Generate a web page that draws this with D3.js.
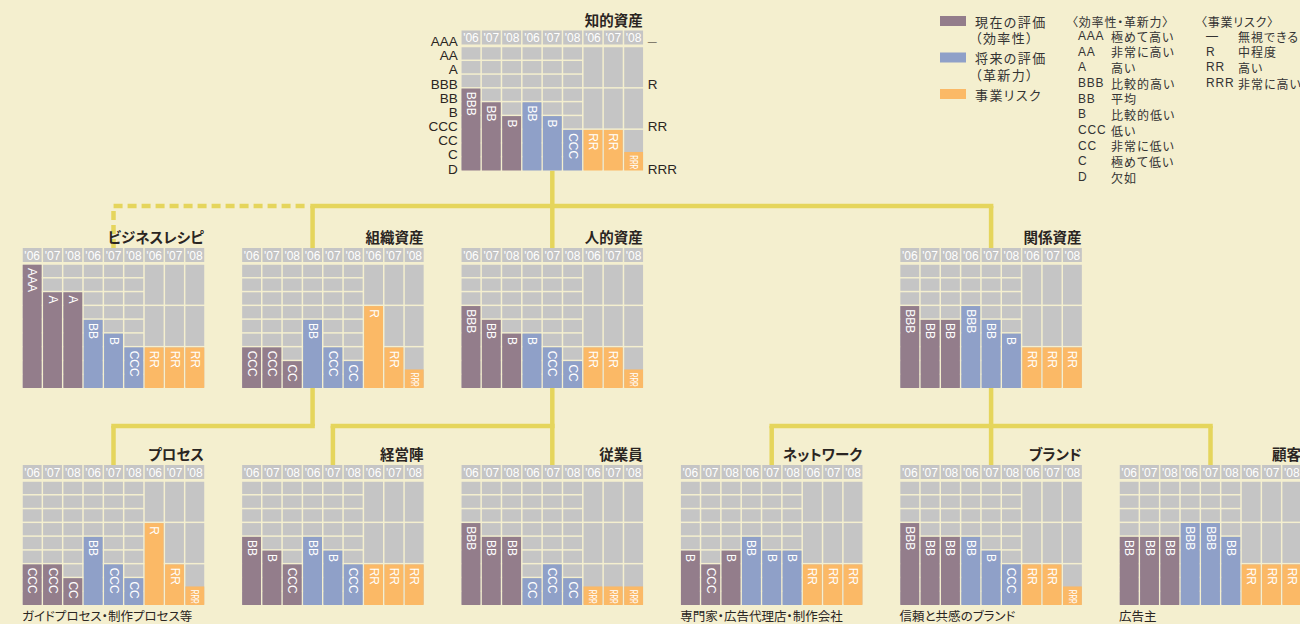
<!DOCTYPE html>
<html>
<head>
<meta charset="utf-8">
<script src="https://cdn.jsdelivr.net/npm/d3@7"></script>
<style>
  body { margin: 0; background: #f4efcf; }
  svg { display: block; }
  .jp { font-family: 'Noto Sans CJK JP', sans-serif; font-feature-settings: 'palt'; }
  .lat { font-family: 'Liberation Sans', 'Noto Sans CJK JP', sans-serif; }
</style>
</head>
<body>
<svg id="chart" width="1300" height="624"></svg>
<script>
// ---- data ----
const years = ["'06", "'07", "'08"];
const levels = ['AAA', 'AA', 'A', 'BBB', 'BB', 'B', 'CCC', 'CC', 'C', 'D'];
const levelDesc = ['極めて高い', '非常に高い', '高い', '比較的高い', '平均', '比較的低い', '低い', '非常に低い', '極めて低い', '欠如'];
const riskLevels = ['—', 'R', 'RR', 'RRR'];
const riskDesc = ['無視できる', '中程度', '高い', '非常に高い'];
const riskScore = [9, 6, 3, 1.4]; // bar height in rating steps

const assets = ['知的資産', 'ビジネスレシピ', '組織資産', '人的資産', '関係資産',
  'プロセス', '経営陣', '従業員', 'ネットワーク', 'ブランド', '顧客'];
const current = [
  ['BBB', 'BB', 'B'], ['AAA', 'A', 'A'], ['CCC', 'CCC', 'CC'], ['BBB', 'BB', 'B'], ['BBB', 'BB', 'BB'],
  ['CCC', 'CCC', 'CC'], ['BB', 'B', 'CCC'], ['BBB', 'BB', 'BB'], ['B', 'CCC', 'B'], ['BBB', 'BB', 'BB'], ['BB', 'BB', 'BB']
];
const future = [
  ['BB', 'B', 'CCC'], ['BB', 'B', 'CCC'], ['BB', 'CCC', 'CC'], ['B', 'CCC', 'CC'], ['BBB', 'BB', 'B'],
  ['BB', 'CCC', 'CC'], ['BB', 'B', 'CCC'], ['CC', 'CCC', 'CC'], ['BB', 'B', 'B'], ['BB', 'B', 'CCC'], ['BBB', 'BBB', 'BB']
];
const risk = [
  ['RR', 'RR', 'RRR'], ['RR', 'RR', 'RR'], ['R', 'RR', 'RRR'], ['RR', 'RR', 'RRR'], ['RR', 'RR', 'RR'],
  ['R', 'RR', 'RRR'], ['RR', 'RR', 'RR'], ['RRR', 'RRR', 'RRR'], ['RR', 'RR', 'RR'], ['RR', 'RR', 'RRR'], ['RR', 'RR', 'RR']
];
const notes = ['', '', '', '', '', 'ガイドプロセス・制作プロセス等', '', '', '専門家・広告代理店・制作会社', '信頼と共感のブランド', '広告主'];
const parents = [null, 0, 0, 0, 0, 2, 3, 3, 4, 4, 4];
const dashed = ['ビジネスレシピ'];

const seriesNames = [['現在の評価', '（効率性）'], ['将来の評価', '（革新力）'], ['事業リスク']];
const colors = ['#937d8b', '#8fa0c8', '#fbb966'];

// ---- layout ----
const W = 183, headH = 14, gridTop = 16, gridH = 124;
const slots = [[0, 2], [1, 0], [1, 1], [1, 2], [1, 4], [2, 0], [2, 1], [2, 2], [2, 3], [2, 4], [2, 5]];
const anchorCol = [4, 4, 3, 4, 4, 4, 4, 4, 4, 4, 4]; // column the connector attaches to
const rowTop = [30.5, 248, 465];
const busY = [206, 426];
const slotX = d3.scaleLinear().domain([0, 5]).range([22, 1119]);
const col = d3.scaleBand().domain(d3.range(9)).range([0, W]);
const y = d3.scaleLinear().domain([0, 9]).range([gridTop + gridH, gridTop]);
const bw = col.bandwidth();

const bg = '#f4efcf', gray = '#c5c5c5', ink = '#2a2522', yellow = '#e5d55c';
const rating = r => levels.length - 1 - levels.indexOf(r);
const riskVal = r => riskScore[riskLevels.indexOf(r)];

const svg = d3.select('#chart');
svg.append('rect').attr('width', 1300).attr('height', 624).attr('fill', bg);

const px = i => slotX(slots[i][1]);
const py = i => rowTop[slots[i][0]];
const anchor = i => px(i) + col(anchorCol[i]) + bw / 2;

// connectors
const links = svg.append('g').attr('fill', 'none').attr('stroke', yellow).attr('stroke-width', 4.5);
assets.forEach((name, p) => {
  const kids = d3.range(assets.length).filter(c => parents[c] === p);
  if (!kids.length) return;
  const by = busY[slots[p][0]];
  const solid = kids.filter(c => !dashed.includes(assets[c]));
  const xs = [anchor(p), ...solid.map(anchor)];
  links.append('path').attr('d', `M${anchor(p)},${py(p) + gridTop + gridH}V${by}`);
  links.append('path').attr('d', `M${d3.min(xs) - 2.25},${by}H${d3.max(xs) + 2.25}`);
  solid.forEach(c => links.append('path').attr('d', `M${anchor(c)},${by}V${py(c)}`));
  kids.filter(c => dashed.includes(assets[c])).forEach(c => {
    links.append('path').attr('stroke-dasharray', '9,5')
      .attr('d', `M${d3.min(xs) - 8},${by}H${anchor(c)}V${py(c)}`);
  });
});

// panels
assets.forEach((name, i) => {
  const g = svg.append('g').attr('transform', `translate(${px(i)},${py(i)})`);
  g.append('rect').attr('y', 0).attr('width', W).attr('height', gridTop + gridH).attr('fill', bg);

  // header
  d3.range(9).forEach(c => {
    g.append('rect').attr('x', col(c) + 0.75).attr('y', 0).attr('width', bw - 1.5).attr('height', headH).attr('fill', gray);
    g.append('text').attr('class', 'lat').attr('x', col(c) + bw / 2).attr('y', headH / 2 + 0.5)
      .attr('text-anchor', 'middle').attr('dominant-baseline', 'central')
      .attr('font-size', 12).attr('fill', '#fff').text(years[c % 3]);
  });

  // grid cells
  d3.range(9).forEach(c => {
    const steps = c < 6 ? d3.range(0, 10) : [0, 3, 6, 9];
    d3.pairs(steps).forEach(([a, b]) => {
      g.append('rect').attr('x', col(c) + 0.75).attr('y', y(b) + 0.75)
        .attr('width', bw - 1.5).attr('height', y(a) - y(b) - 1.5).attr('fill', gray);
    });
  });

  // bars
  const vals = [
    ...current[i].map(r => ({ r, v: rating(r), s: 0 })),
    ...future[i].map(r => ({ r, v: rating(r), s: 1 })),
    ...risk[i].map(r => ({ r, v: riskVal(r), s: 2 }))
  ];
  g.selectAll('rect.bar').data(vals).join('rect').attr('class', 'bar')
    .attr('x', (d, k) => col(k) + 0.75).attr('y', d => y(d.v) + 0.75)
    .attr('width', bw - 1.5).attr('height', d => y(0) - y(d.v) - 0.75)
    .attr('fill', d => colors[d.s]);
  g.selectAll('text.bl').data(vals).join('text').attr('class', 'bl lat')
    .attr('transform', (d, k) => `translate(${col(k) + bw / 2},${y(d.v) + 4}) rotate(90)`)
    .attr('dominant-baseline', 'central').attr('fill', '#fff')
    .attr('font-size', d => d.r === 'RRR' ? 10 : 12)
    .each(function (d) { if (d.r === 'RRR') d3.select(this).attr('textLength', 14).attr('lengthAdjust', 'spacingAndGlyphs'); })
    .text(d => d.r);

  // title
  g.append('text').attr('class', 'jp').attr('x', W - 1).attr('y', -5)
    .attr('text-anchor', 'end').attr('font-size', 14.5).attr('font-weight', 700).attr('fill', ink).text(name);

  if (notes[i]) {
    g.append('text').attr('class', 'jp').attr('x', 0).attr('y', gridTop + gridH + 16)
      .attr('font-size', 12.5).attr('fill', ink).text(notes[i]);
  }

  // scale labels for the top panel
  if (i === 0) {
    const ly = d3.scalePoint().domain(levels).range([10.8, 138.3]);
    const la = g.append('g').attr('transform', 'translate(-1,0)')
      .call(d3.axisLeft(ly).tickSize(0).tickPadding(2));
    const ry = d3.scalePoint().domain(riskLevels).range([10.8, 138.3]);
    const ra = g.append('g').attr('transform', `translate(${W},0)`)
      .call(d3.axisRight(ry).tickSize(0).tickPadding(4));
    [la, ra].forEach(a => {
      a.select('.domain').remove();
      a.selectAll('text').attr('class', 'lat').attr('font-size', 13.5).attr('fill', ink);
    });
    ra.select('.tick text').attr('font-size', 9);
  }
});

// legend
const lg = svg.append('g').attr('class', 'jp').attr('fill', '#333');
const swY = d3.scalePoint().domain(d3.range(seriesNames.length)).range([21, 94]);
seriesNames.forEach((lines, s) => {
  const cy = s === 1 ? 57.5 : swY(s);
  lg.append('rect').attr('x', 940).attr('y', cy - 5).attr('width', 26).attr('height', 10).attr('fill', colors[s]);
  lines.forEach((t, k) => {
    lg.append('text').attr('x', 975).attr('y', cy + k * 16.5).attr('dominant-baseline', 'central')
      .attr('font-size', 13).attr('letter-spacing', 1.4).text(t);
  });
});

const ly2 = d3.scalePoint().domain(levels).range([36, 177]);
lg.append('text').attr('x', 1072).attr('y', 21).attr('dominant-baseline', 'central')
  .attr('font-size', 12).attr('letter-spacing', 0.8).text('〈効率性・革新力〉');
levels.forEach((l, k) => {
  lg.append('text').attr('class', 'lat').attr('x', 1078).attr('y', ly2(l)).attr('dominant-baseline', 'central')
    .attr('font-size', 12).attr('letter-spacing', 0.8).text(l);
  lg.append('text').attr('x', 1111).attr('y', ly2(l)).attr('dominant-baseline', 'central')
    .attr('font-size', 12).attr('letter-spacing', 1).text(levelDesc[k]);
});

const ry2 = d3.scalePoint().domain(riskLevels).range([36, 83]);
lg.append('text').attr('x', 1201).attr('y', 21).attr('dominant-baseline', 'central')
  .attr('font-size', 12).attr('letter-spacing', 0.8).text('〈事業リスク〉');
riskLevels.forEach((l, k) => {
  lg.append('text').attr('class', 'lat').attr('x', 1206).attr('y', ry2(l)).attr('dominant-baseline', 'central')
    .attr('font-size', 12).attr('letter-spacing', 0.8).text(l);
  lg.append('text').attr('x', 1238).attr('y', ry2(l)).attr('dominant-baseline', 'central')
    .attr('font-size', 12).attr('letter-spacing', 1).text(riskDesc[k]);
});
</script>
</body>
</html>
